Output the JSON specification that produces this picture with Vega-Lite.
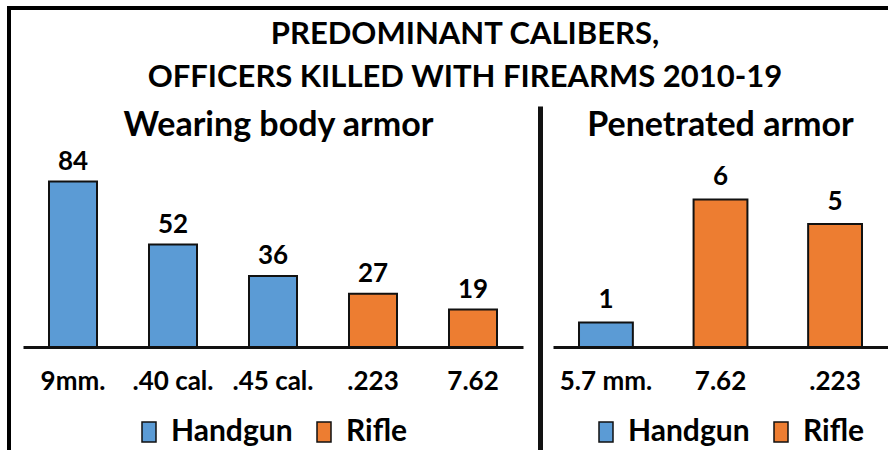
{
  "$schema": "https://vega.github.io/schema/vega-lite/v6.json",
  "width": 879,
  "height": 442,
  "autosize": {"type": "none"},
  "padding": {"left": 9, "top": 8, "right": 0, "bottom": 0},
  "background": "white",
  "config": {
    "view": {"stroke": "black", "strokeWidth": 4, "strokeDash": [879, 1321, 442, 0], "strokeCap": "square"},
    "font": "Lato",
    "axis": {"grid": false}
  },
  "title": {
    "text": ["PREDOMINANT CALIBERS,", "OFFICERS KILLED WITH FIREARMS 2010-19"],
    "anchor": "middle",
    "frame": "group",
    "offset": -86,
    "dx": 16.5,
    "font": "Lato",
    "fontSize": 31,
    "fontWeight": "bold",
    "color": "black",
    "lineHeight": 43
  },
  "datasets": {
    "armor": [
      {"caliber": "9mm.", "type": "Handgun", "officers": 84},
      {"caliber": ".40 cal.", "type": "Handgun", "officers": 52},
      {"caliber": ".45 cal.", "type": "Handgun", "officers": 36},
      {"caliber": ".223", "type": "Rifle", "officers": 27},
      {"caliber": "7.62", "type": "Rifle", "officers": 19}
    ],
    "penetrated": [
      {"caliber": "5.7 mm.", "type": "Handgun", "officers": 1},
      {"caliber": "7.62", "type": "Rifle", "officers": 6},
      {"caliber": ".223", "type": "Rifle", "officers": 5}
    ]
  },
  "layer": [
    {
      "data": {"name": "armor"},
      "encoding": {
        "x": {
          "field": "caliber", "type": "nominal", "sort": null,
          "scale": {"range": [14, 514], "paddingInner": 0.52, "paddingOuter": 0.26},
          "axis": {
            "orient": "bottom", "offset": -103, "domain": true, "domainColor": "#111", "domainWidth": 3,
            "ticks": false, "labelPadding": 21, "labelFontSize": 26, "labelFont": "Lato", "labelFontWeight": "bold",
            "labelColor": "black", "labelAngle": 0,
            "title": "Wearing body armor", "titleX": 269, "titleY": -212, "titleAlign": "center",
            "titleBaseline": "alphabetic", "titleFont": "Lato", "titleFontSize": 34, "titleFontWeight": "bold", "titleColor": "black"
          }
        },
        "y": {
          "field": "officers", "type": "quantitative", "stack": null,
          "scale": {"domain": [-52.28, 172.08], "nice": false},
          "axis": null
        }
      },
      "layer": [
        {
          "mark": {"type": "bar", "stroke": "#111", "strokeWidth": 2},
          "encoding": {
            "color": {
              "field": "type", "type": "nominal",
              "scale": {"domain": ["Handgun", "Rifle"], "range": ["#5B9BD5", "#ED7D31"]},
              "legend": {
                "orient": "none", "legendX": 125, "legendY": 409, "direction": "horizontal", "title": null,
                "symbolType": "M-0.7,-1H0.7V1H-0.7Z", "symbolSize": 400, "symbolStrokeColor": "#111", "symbolStrokeWidth": 1.5,
                "symbolOpacity": 1, "labelFontSize": 30, "labelFont": "Lato", "labelFontWeight": "bold", "labelColor": "black",
                "labelOffset": 7, "columnPadding": 16, "padding": 0
              }
            }
          }
        },
        {
          "mark": {"type": "text", "dy": -12, "baseline": "alphabetic", "fontSize": 26, "fontWeight": "bold", "font": "Lato", "color": "black"},
          "encoding": {"text": {"field": "officers", "type": "quantitative"}}
        }
      ]
    },
    {
      "data": {"name": "penetrated"},
      "encoding": {
        "x": {
          "field": "caliber", "type": "nominal", "sort": null,
          "scale": {"range": [544, 879], "paddingInner": 0.53, "paddingOuter": 0.227},
          "axis": {
            "orient": "bottom", "offset": -103, "domain": true, "domainColor": "#111", "domainWidth": 3,
            "ticks": false, "labelPadding": 21, "labelFontSize": 26, "labelFont": "Lato", "labelFontWeight": "bold",
            "labelColor": "black", "labelAngle": 0,
            "title": "Penetrated armor", "titleX": 711, "titleY": -212, "titleAlign": "center",
            "titleBaseline": "alphabetic", "titleFont": "Lato", "titleFontSize": 34, "titleFontWeight": "bold", "titleColor": "black"
          }
        },
        "y": {
          "field": "officers", "type": "quantitative", "stack": null,
          "scale": {"domain": [-4.187, 9.797], "range": [442, 98], "nice": false},
          "axis": {
            "orient": "left", "offset": -531, "domain": true, "domainColor": "#111", "domainWidth": 5,
            "ticks": false, "labels": false, "title": null, "grid": false
          }
        }
      },
      "layer": [
        {
          "mark": {"type": "bar", "stroke": "#111", "strokeWidth": 2},
          "encoding": {
            "color": {
              "field": "type", "type": "nominal",
              "scale": {"domain": ["Handgun", "Rifle"], "range": ["#5B9BD5", "#ED7D31"]},
              "legend": {
                "orient": "none", "legendX": 582, "legendY": 409, "direction": "horizontal", "title": null,
                "symbolType": "M-0.7,-1H0.7V1H-0.7Z", "symbolSize": 400, "symbolStrokeColor": "#111", "symbolStrokeWidth": 1.5,
                "symbolOpacity": 1, "labelFontSize": 30, "labelFont": "Lato", "labelFontWeight": "bold", "labelColor": "black",
                "labelOffset": 7, "columnPadding": 16, "padding": 0
              }
            }
          }
        },
        {
          "mark": {"type": "text", "dy": -14, "baseline": "alphabetic", "fontSize": 26, "fontWeight": "bold", "font": "Lato", "color": "black"},
          "encoding": {"text": {"field": "officers", "type": "quantitative"}}
        }
      ]
    }
  ],
  "resolve": {
    "scale": {"x": "independent", "y": "independent", "color": "independent"},
    "axis": {"x": "independent", "y": "independent"},
    "legend": {"color": "independent"}
  }
}
